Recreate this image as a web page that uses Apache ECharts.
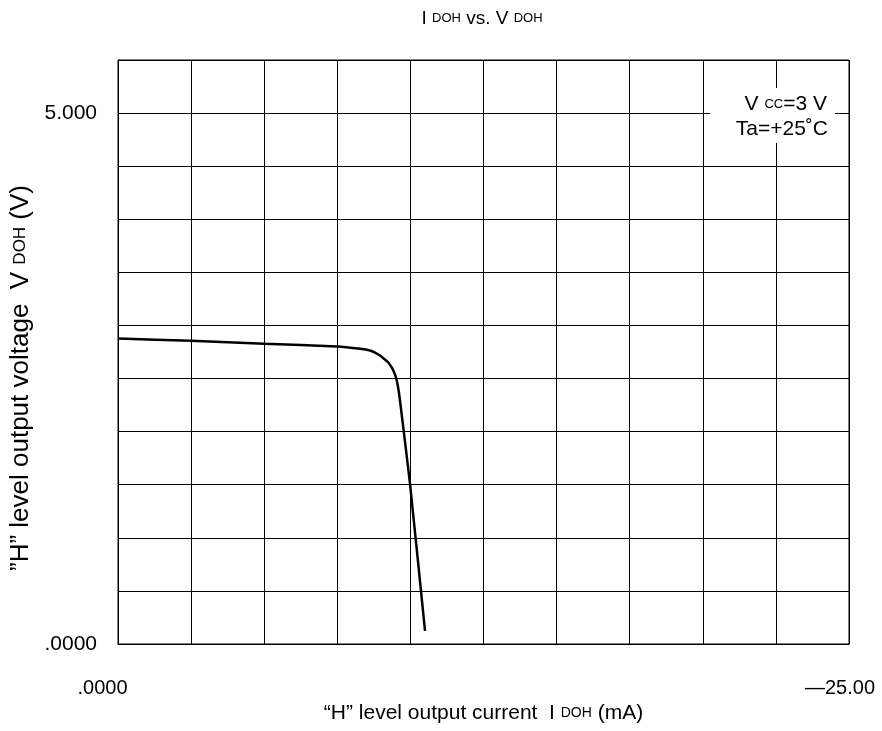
<!DOCTYPE html>
<html><head><meta charset="utf-8">
<script src="https://cdn.jsdelivr.net/npm/echarts@6/dist/echarts.min.js"></script>
<style>html,body{margin:0;padding:0;background:#fff}#c{width:882px;height:731px}</style>
</head><body><div id="c"></div>
<script>
// I_DOH (mA) and V_DOH (V)
var currentMA = [0, -2.5, -5, -7.5, -8.28, -8.62, -8.79, -8.96, -9.13, -9.23, -9.34, -9.40, -9.51, -9.58, -9.64, -9.99, -10.50];
var voltageV  = [2.877, 2.856, 2.827, 2.802, 2.780, 2.764, 2.745, 2.717, 2.679, 2.656, 2.613, 2.585, 2.509, 2.415, 2.302, 1.5, 0.123];
var xTickLabels = {'0': '{l|.0000}', '-25': '{r|\u201425.00}'};
var yTickLabels = {'0': '.0000', '5': '5.000'};

var F = 'Arial, "Liberation Sans", sans-serif';
var chart = echarts.init(document.getElementById('c'));
var pts = currentMA.map(function(v, i){ return [v, voltageV[i]]; });
function rich(a, s){ return { a: {fontSize: a, fontFamily: F, color: '#000', fontWeight: 'normal'}, s: {fontSize: s, fontFamily: F, color: '#000', fontWeight: 'normal'} }; }
chart.setOption({
  animation: false,
  title: {
    text: '{a|I }{s|DOH}{a| vs. V }{s|DOH}',
    left: 477, textAlign: 'center', top: 4,
    textStyle: { fontWeight: 'normal', rich: rich(19, 13) }
  },
  grid: { left: 118, right: 33, top: 60, bottom: 87, show: true, borderColor: '#000', borderWidth: 1, containLabel: false, outerBoundsMode: 'none' },
  xAxis: {
    type: 'value', min: -25, max: 0, interval: 2.5, inverse: true,
    axisLine: {show: true, lineStyle: {color: '#000', width: 1}},
    axisTick: {show: false},
    splitLine: {show: true, lineStyle: {color: '#000', width: 1}},
    axisLabel: {
      fontSize: 20, fontFamily: F, color: '#000', margin: 34,
      showMinLabel: true, showMaxLabel: true,
      rich: {
        l: {fontSize: 20, fontFamily: F, color: '#000', padding: [0, 31, 0, 0]},
        r: {fontSize: 20, fontFamily: F, color: '#000', padding: [0, 18, 0, 0]}
      },
      formatter: function(v){ var k = String(Math.round(v*100)/100); return xTickLabels[k] || ''; }
    },
    name: '{a|\u201cH\u201d level output current  I }{s|DOH}{a| (mA)}',
    nameLocation: 'middle', nameGap: 58,
    nameTextStyle: { rich: rich(21, 14) }
  },
  yAxis: {
    type: 'value', min: 0, max: 5.5, interval: 0.5,
    axisLine: {show: true, lineStyle: {color: '#000', width: 1}},
    axisTick: {show: false},
    splitLine: {show: true, lineStyle: {color: '#000', width: 1}},
    axisLabel: {
      fontSize: 21, fontFamily: F, color: '#000', margin: 21,
      showMinLabel: true, showMaxLabel: true,
      formatter: function(v){ var k = String(Math.round(v*100)/100); return yTickLabels[k] || ''; }
    },
    name: '{a|\u201dH\u201d level output voltage  V }{s|DOH}{a| (V)}',
    nameLocation: 'middle', nameGap: 84, nameRotate: 90,
    nameTextStyle: { padding: [0, 52, 0, 0], rich: rich(26, 17) }
  },
  graphic: [{
    type: 'group', left: 710, top: 88, z: 100,
    children: [
      { type: 'rect', z: 100, shape: {x: 0, y: 0, width: 125, height: 55}, style: {fill: '#fff'} },
      { type: 'text', z: 101, style: { x: 117, y: 6, align: 'right', text: '{a|V }{s|CC}{a|=3 V}',
          rich: { a: {fontSize: 21, fontFamily: F, fill: '#000'}, s: {fontSize: 13, fontFamily: F, fill: '#000'} } } },
      { type: 'text', z: 101, style: { x: 118, y: 31, align: 'right', text: 'Ta=+25\u02daC', fontSize: 21, fontFamily: F, fill: '#000' } }
    ]
  }],
  series: [{
    type: 'line', data: pts, showSymbol: false, smooth: 0.15,
    lineStyle: {color: '#000', width: 2.5}, z: 5
  }]
});
</script></body></html>
